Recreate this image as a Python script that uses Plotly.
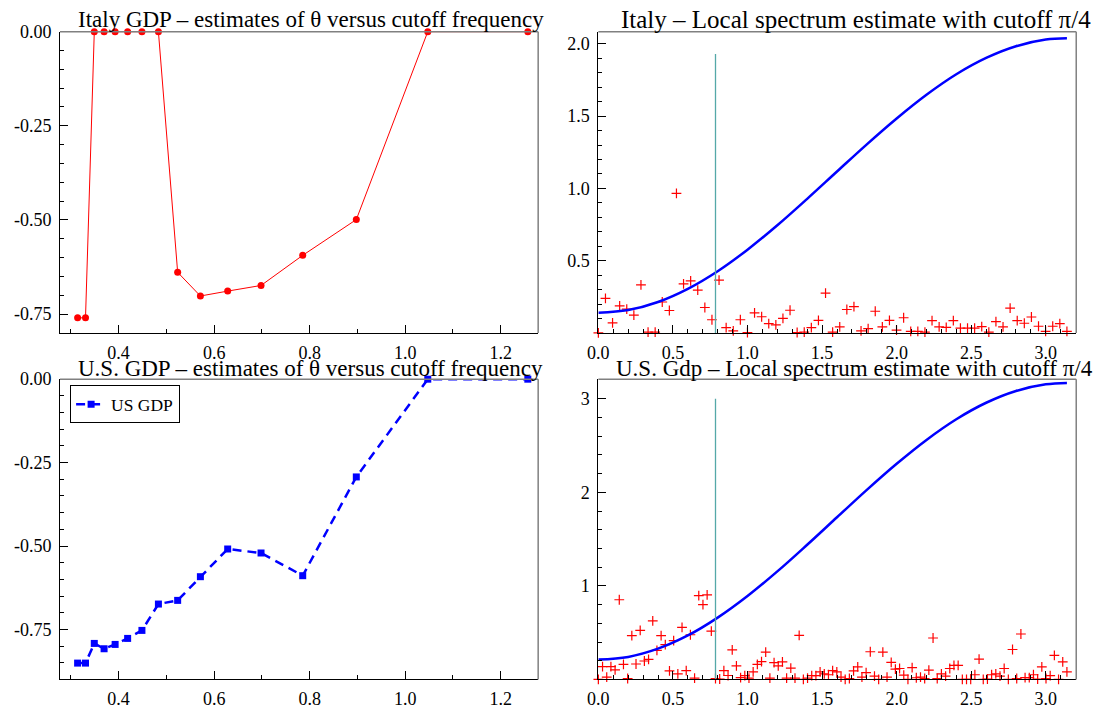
import numpy as np
import plotly.graph_objects as go

# ---- theta estimates against cutoff frequency pi/d ----
cutoff_divisors = [10, 9.5, 9, 8.5, 8, 7.5, 7, 6.5, 6, 5.5, 5, 4.5, 4, 3.5, 3, 2.5]
theta_italy = [-0.76, -0.76, 0.0, 0.0, 0.0, 0.0, 0.0, 0.0,
               -0.639, -0.702, -0.689, -0.674, -0.594, -0.499, 0.0, 0.0]
theta_us = [-0.851, -0.851, -0.792, -0.808, -0.795, -0.777, -0.753, -0.674,
            -0.663, -0.592, -0.509, -0.521, -0.589, -0.293, 0.0, 0.0]

# ---- local spectrum estimates (cutoff pi/4) ----
curve_freq = [0.0, 0.2, 0.4, 0.6, 0.8, 1.0, 1.2, 1.4, 1.6, 1.8, 2.0,
              2.2, 2.4, 2.6, 2.8, 3.0, 3.1416]
italy_curve = [0.139, 0.158, 0.214, 0.305, 0.427, 0.576, 0.745, 0.928, 1.117,
               1.305, 1.484, 1.648, 1.790, 1.903, 1.984, 2.030, 2.039]
us_curve = [0.212, 0.241, 0.329, 0.470, 0.661, 0.892, 1.155, 1.440, 1.734,
            2.027, 2.306, 2.561, 2.782, 2.958, 3.084, 3.155, 3.170]

# ---- sample periodograms at Fourier frequencies 2*pi*j/T ----
T_italy = 132
italy_pgram = [0.0, 0.239, 0.069, 0.187, 0.164, 0.123, 0.332, 0.005, 0.005, 0.214,
               0.155, 0.966, 0.339, 0.36, 0.296, 0.176, 0.091, 0.366, 0.037, 0.014,
               0.091, 0.003, 0.139, 0.112, 0.064, 0.055, 0.101, 0.157, 0.003, 0.005,
               0.037, 0.087, 0.275, 0.005, 0.042, 0.162, 0.182, 0.014, 0.03, 0.15,
               0.042, 0.087, 0.019, 0.105, 0.01, 0.01, 0.005, 0.085, 0.042, 0.038,
               0.085, 0.033, 0.033, 0.033, 0.044, 0.005, 0.078, 0.042, 0.171, 0.085,
               0.067, 0.11, 0.046, 0.01, 0.046, 0.064, 0.01]
T_us = 224
us_pgram = [0.0, 0.137, 0.025, 0.137, 0.102, 0.852, 0.162, 0.01, 0.468, 0.165,
            0.525, 0.197, 0.214, 0.626, 0.31, 0.468, 0.373, 0.092, 0.415, 0.06,
            0.556, 0.095, 0.478, 0.014, 0.897, 0.799, 0.905, 0.517, 0.01, 0.005,
            0.095, 0.042, 0.317, 0.145, 0.02, 0.04, 0.014, 0.081, 0.162, 0.19,
            0.292, 0.014, 0.18, 0.145, 0.187, 0.014, 0.12, 0.014, 0.472, 0.0,
            0.014, 0.04, 0.04, 0.08, 0.06, 0.05, 0.095, 0.081, 0.024, 0.0,
            0.01, 0.092, 0.134, 0.024, 0.074, 0.296, 0.035, 0.0, 0.292, 0.024,
            0.183, 0.11, 0.117, 0.046, 0.0, 0.127, 0.018, 0.024, 0.01, 0.1,
            0.443, 0.01, 0.06, 0.035, 0.117, 0.151, 0.151, 0.0, 0.0, 0.0,
            0.05, 0.218, 0.0, 0.005, 0.05, 0.06, 0.035, 0.117, 0.0, 0.32,
            0.01, 0.486, 0.02, 0.02, 0.05, 0.005, 0.134, 0.01, 0.04, 0.257,
            0.0, 0.187, 0.081]

# cutoff marker line heights
cutoff_line = np.pi / 4
italy_line_height = 1.93
us_line_height = 3.0

cutoffs = [np.pi / d for d in cutoff_divisors]
italy_freq = [2 * np.pi * j / T_italy for j in range(len(italy_pgram))]
us_freq = [2 * np.pi * j / T_us for j in range(len(us_pgram))]

# the page body keeps its default 8px margin, so positions below are given
# in window pixels and converted into figure coordinates with that offset
OFF = 8
W, H = 1107 - OFF, 717 - OFF
SERIF = "Liberation Serif"
RED, BLUE, TEAL = "#ff0000", "#0000ff", "#55a8a8"

fig = go.Figure()

# top-left: Italy theta
fig.add_trace(go.Scatter(
    x=cutoffs, y=theta_italy, mode="lines+markers", xaxis="x", yaxis="y",
    line=dict(color=RED, width=1), marker=dict(symbol="circle", size=7, color=RED),
    cliponaxis=False, showlegend=False))

# bottom-left: US theta
fig.add_trace(go.Scatter(
    x=cutoffs, y=theta_us, mode="lines+markers", xaxis="x3", yaxis="y3",
    name="US GDP",
    line=dict(color=BLUE, width=2.5, dash="9px,6px"),
    marker=dict(symbol="square", size=7, color=BLUE),
    cliponaxis=False, showlegend=True))

# right panels: periodogram, smooth spectrum and cutoff line
for xa, ya, freq, pg, curve, h in [
        ("x2", "y2", italy_freq, italy_pgram, italy_curve, italy_line_height),
        ("x4", "y4", us_freq, us_pgram, us_curve, us_line_height)]:
    fig.add_trace(go.Scatter(
        x=freq, y=pg, mode="markers", xaxis=xa, yaxis=ya,
        marker=dict(symbol="cross-thin", size=7, color=RED,
                    line=dict(color=RED, width=1.2)),
        cliponaxis=False, showlegend=False))
    fig.add_trace(go.Scatter(
        x=curve_freq, y=curve, mode="lines", xaxis=xa, yaxis=ya,
        line=dict(color=BLUE, width=2.5, shape="spline"),
        showlegend=False))
    fig.add_trace(go.Scatter(
        x=[cutoff_line, cutoff_line], y=[0, h], mode="lines", xaxis=xa, yaxis=ya,
        line=dict(color=TEAL, width=1.3), showlegend=False))


def px_x(a, b):
    return [(a - OFF) / W, (b - OFF) / W]


def px_y(top, bottom):
    return [1 - (bottom - OFF) / H, 1 - (top - OFF) / H]


tickfont = dict(family=SERIF, size=18, color="black")
common = dict(showline=True, linecolor="black", linewidth=1, ticks="inside",
              ticklen=8, tickcolor="black", tickwidth=1, showgrid=False,
              zeroline=False, tickfont=tickfont)
xcommon = dict(ticklabelstandoff=3, **common)
ycommon = dict(ticklabelstandoff=4, **common)

left_dom = px_x(57.5, 540.5)
right_dom = px_x(601.3, 1084)
top_dom = px_y(30, 336)
bot_dom = px_y(383, 688)

theta_ticks = [0.0, -0.25, -0.5, -0.75]
theta_text = ["0.00", "-0.25", "-0.50", "-0.75"]


def minor(step):
    return dict(ticks="inside", ticklen=4, tickcolor="black", dtick=step, tick0=0)


fig.update_layout(
    width=W, height=H, margin=dict(l=0, r=0, t=0, b=0),
    paper_bgcolor="white", plot_bgcolor="white",
    font=dict(family=SERIF, color="black"),
    xaxis=dict(domain=left_dom, anchor="y", range=[0.2773, 1.2783],
               tickmode="linear", tick0=0.4, dtick=0.2, tickformat=".1f",
               minor=minor(0.1), **xcommon),
    yaxis=dict(domain=top_dom, anchor="x", range=[-0.8, 0.0],
               tickmode="array", tickvals=theta_ticks, ticktext=theta_text,
               minor=minor(0.05), **ycommon),
    xaxis2=dict(domain=right_dom, anchor="y2", range=[0, 3.204],
                tickmode="linear", tick0=0, dtick=0.5, tickformat=".1f",
                minor=minor(0.1), **xcommon),
    yaxis2=dict(domain=top_dom, anchor="x2", range=[0, 2.085],
                tickmode="array", tickvals=[0.5, 1.0, 1.5, 2.0],
                ticktext=["0.5", "1.0", "1.5", "2.0"],
                minor=minor(0.1), **ycommon),
    xaxis3=dict(domain=left_dom, anchor="y3", range=[0.2773, 1.2783],
                tickmode="linear", tick0=0.4, dtick=0.2, tickformat=".1f",
                minor=minor(0.1), **xcommon),
    yaxis3=dict(domain=bot_dom, anchor="x3", range=[-0.9, 0.0],
                tickmode="array", tickvals=theta_ticks, ticktext=theta_text,
                minor=minor(0.05), **ycommon),
    xaxis4=dict(domain=right_dom, anchor="y4", range=[0, 3.204],
                tickmode="linear", tick0=0, dtick=0.5, tickformat=".1f",
                minor=minor(0.1), **xcommon),
    yaxis4=dict(domain=bot_dom, anchor="x4", range=[0, 3.21],
                tickmode="array", tickvals=[1, 2, 3], ticktext=["1", "2", "3"],
                minor=minor(0.2), **ycommon),
    legend=dict(x=(67.7 - OFF) / W, y=1 - (389.3 - OFF) / H,
                xanchor="left", yanchor="top",
                bordercolor="black", borderwidth=1, bgcolor="white",
                font=dict(family=SERIF, size=17.5, color="black"),
                itemwidth=30, tracegroupgap=0),
)

# grey top and right frame edges
for xa, ya in [("x", "y"), ("x2", "y2"), ("x3", "y3"), ("x4", "y4")]:
    fig.add_shape(type="line", xref=f"{xa} domain", yref=f"{ya} domain",
                  x0=0, x1=1, y0=1, y1=1, line=dict(color="#808080", width=1.5))
    fig.add_shape(type="line", xref=f"{xa} domain", yref=f"{ya} domain",
                  x0=1, x1=1, y0=0, y1=1, line=dict(color="#808080", width=1.5))

# panel titles: (text, centre x, centre y, size) in window pixels
titles = [
    ("Italy GDP – estimates of θ versus cutoff frequency", 311.5, 18, 23),
    ("Italy – Local spectrum estimate with cutoff π/4", 861.5, 18, 25),
    ("U.S. GDP – estimates of θ versus cutoff frequency", 311.0, 372, 23),
    ("U.S. Gdp – Local spectrum estimate with cutoff π/4", 860.5, 372, 23),
]
for text, cx, cy, fs in titles:
    fig.add_annotation(text=text, x=(cx - OFF) / W, y=1 - (cy - OFF) / H,
                       xref="paper", yref="paper",
                       xanchor="center", yanchor="middle", showarrow=False,
                       font=dict(family=SERIF, size=fs, color="black"))

fig.write_html("out.html")
